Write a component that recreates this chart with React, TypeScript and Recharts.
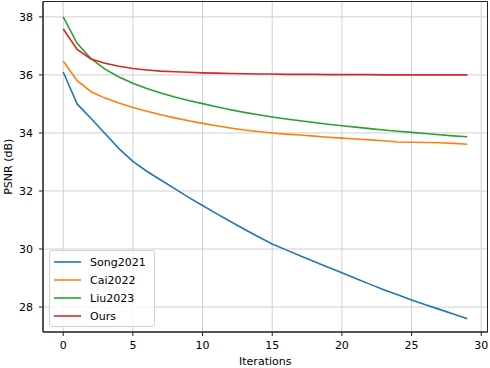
import { LineChart, Line, XAxis, YAxis, CartesianGrid, Legend, ReferenceArea } from 'recharts';

// iterations 0..29
const iterations = Array.from({ length: 30 }, (_, i) => i);

const song2021 = [36.1, 35.0, 34.5, 33.98, 33.46, 33.02, 32.68, 32.38, 32.08, 31.78, 31.5, 31.22, 30.95, 30.68, 30.42, 30.17, 29.97, 29.77, 29.57, 29.37, 29.18, 28.98, 28.79, 28.6, 28.42, 28.24, 28.08, 27.92, 27.76, 27.6];
const cai2022 = [36.48, 35.8, 35.42, 35.2, 35.03, 34.88, 34.75, 34.63, 34.52, 34.42, 34.33, 34.25, 34.17, 34.1, 34.05, 34.0, 33.96, 33.93, 33.89, 33.85, 33.82, 33.79, 33.76, 33.73, 33.69, 33.68, 33.67, 33.66, 33.64, 33.61];
const liu2023 = [38.0, 37.09, 36.56, 36.2, 35.93, 35.71, 35.53, 35.38, 35.24, 35.12, 35.01, 34.9, 34.8, 34.71, 34.63, 34.55, 34.48, 34.42, 34.36, 34.3, 34.25, 34.2, 34.15, 34.1, 34.06, 34.02, 33.98, 33.94, 33.9, 33.87];
const ours = [37.58, 36.88, 36.55, 36.4, 36.3, 36.22, 36.17, 36.13, 36.11, 36.09, 36.07, 36.06, 36.05, 36.04, 36.03, 36.03, 36.02, 36.02, 36.02, 36.01, 36.01, 36.01, 36.01, 36.0, 36.0, 36.0, 36.0, 36.0, 36.0, 36.0];

const xTicks = [0, 5, 10, 15, 20, 25, 30];
const yTicks = [28, 30, 32, 34, 36, 38];

const series = [
  { key: 'song', name: 'Song2021', color: '#1f77b4', values: song2021 },
  { key: 'cai', name: 'Cai2022', color: '#ff7f0e', values: cai2022 },
  { key: 'liu', name: 'Liu2023', color: '#2ca02c', values: liu2023 },
  { key: 'ours', name: 'Ours', color: '#d62728', values: ours },
];

const data = iterations.map((it, i) => {
  const row: Record<string, number> = { it };
  series.forEach(s => { row[s.key] = s.values[i]; });
  return row;
});

const font = '"DejaVu Sans", sans-serif';
const X_DOMAIN: [number, number] = [-1.45, 30.45];
const Y_DOMAIN: [number, number] = [27.14, 38.53];

function LegendBox() {
  return (
    <div style={{
      background: 'rgba(255,255,255,0.8)', border: '1px solid #d0d0d0', borderRadius: 3,
      padding: '2px 8px 1px 4px', fontFamily: font, fontSize: 11, color: '#000',
    }}>
      {series.map(s => (
        <div key={s.key} style={{ display: 'flex', alignItems: 'center', height: 18 }}>
          <svg width={27} height={4} style={{ marginRight: 9 }}>
            <line x1={0} y1={2} x2={27} y2={2} stroke={s.color} strokeWidth={1.6} />
          </svg>
          <span>{s.name}</span>
        </div>
      ))}
    </div>
  );
}

export default function App() {
  return (
    <div style={{ position: 'absolute', left: 0, top: 0, width: 490, height: 368, background: '#fff' }}>
      <LineChart width={490} height={368} data={data} margin={{ top: 1.5, right: 2.5, left: 0, bottom: 0 }}>
        <CartesianGrid stroke="#d0d0d0" strokeWidth={1} />
        <XAxis
          dataKey="it" type="number" domain={X_DOMAIN} ticks={xTicks} allowDataOverflow
          height={36} tickSize={4} tickMargin={5} stroke="#222"
          tick={{ fill: '#000', fontSize: 11, fontFamily: font }}
          label={{ value: 'Iterations', position: 'insideBottom', offset: 3, fill: '#000', fontSize: 11, fontFamily: font }}
        />
        <YAxis
          type="number" domain={Y_DOMAIN} ticks={yTicks} allowDataOverflow
          width={43} tickSize={4} tickMargin={6} stroke="#222"
          tick={{ fill: '#000', fontSize: 11, fontFamily: font }}
          label={{
            content: (p: any) => {
              const vb = p.viewBox || { x: 0, y: 0, height: 330 };
              const cx = 8;
              const cy = vb.y + vb.height / 2;
              return (
                <text x={cx} y={cy} transform={`rotate(-90 ${cx} ${cy})`} textAnchor="middle" dominantBaseline="central"
                  fill="#000" fontSize={11} fontFamily={font}>PSNR (dB)</text>
              );
            },
          }}
        />
        <ReferenceArea x1={X_DOMAIN[0]} x2={X_DOMAIN[1]} y1={Y_DOMAIN[0]} y2={Y_DOMAIN[1]} fill="none" stroke="#222" strokeWidth={1} />
        {series.map(s => (
          <Line key={s.key} dataKey={s.key} name={s.name} stroke={s.color} strokeWidth={1.6} dot={false} type="linear" isAnimationActive={false} />
        ))}
        <Legend layout="vertical" align="center" verticalAlign="middle" content={() => <LegendBox />}
          wrapperStyle={{ left: 49, top: 250, width: 'auto', height: 'auto' }} />
      </LineChart>
    </div>
  );
}
